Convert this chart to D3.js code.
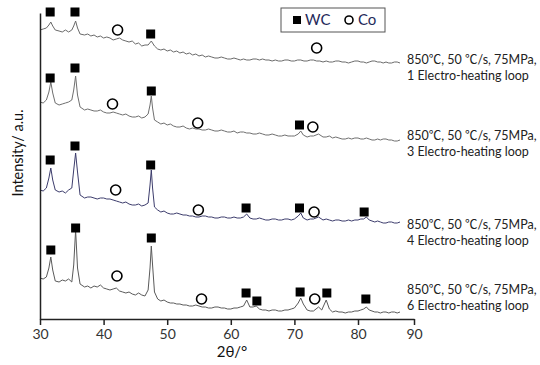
<!DOCTYPE html>
<html>
<head>
<meta charset="utf-8">
<script src="https://cdn.jsdelivr.net/npm/d3@7"></script>
<style>
  html, body { margin: 0; padding: 0; background: #fff; }
  svg { display: block; font-family: Lato, "Noto Sans CJK SC", sans-serif; }
</style>
</head>
<body>
<svg id="chart" width="540" height="365"></svg>
<script>
// XRD patterns, [2θ, stacked intensity in a.u.]
const loop1 = [
  [30, 289], [30.5, 290], [31, 291], [31.4, 294], [31.7, 297], [32, 293], [32.4, 289], [33, 288],
  [33.5, 287], [34, 289], [34.5, 287], [35, 289], [35.3, 293], [35.6, 298], [35.9, 291], [36.3, 285],
  [37, 284], [37.5, 285], [38, 283], [38.5, 284], [39, 282], [39.5, 283], [40, 281], [40.5, 282],
  [41, 281], [41.5, 279], [42, 280], [42.5, 281], [43, 279], [43.5, 278], [44, 277], [44.5, 278],
  [45, 275], [45.5, 276], [46, 273], [46.5, 274], [47, 274], [47.5, 278], [48, 273], [48.5, 270],
  [49, 269], [49.5, 270], [50, 268], [50.5, 269], [51, 267], [51.5, 268], [52, 266], [52.5, 267],
  [53, 265], [53.5, 266], [54, 264], [54.5, 265], [55, 263], [55.5, 264], [56, 262], [56.5, 263],
  [57, 262], [57.5, 261], [58, 261], [58.5, 262], [59, 261], [59.5, 260], [60, 260], [60.5, 261],
  [61, 260], [61.5, 259], [62, 260], [62.5, 259], [63, 259], [63.5, 260], [64, 260], [64.5, 259],
  [65, 260], [65.5, 259], [66, 259], [66.5, 258], [67, 259], [67.5, 258], [68, 258], [68.5, 259],
  [69, 259], [69.5, 258], [70, 258], [70.5, 259], [71, 259], [71.5, 258], [72, 258], [72.5, 259],
  [73, 259], [73.5, 258], [74, 258], [74.5, 257], [75, 258], [75.5, 257], [76, 257], [76.5, 258],
  [77, 258], [77.5, 257], [78, 257], [78.5, 256], [79, 257], [79.5, 258], [80, 258], [80.5, 257],
  [81, 257], [81.5, 256], [82, 257], [82.5, 258], [83, 258], [83.5, 257], [84, 257], [84.5, 256],
  [85, 257], [85.5, 256], [86, 256], [86.5, 257], [87, 257], [87.5, 256]
];
const loop3 = [
  [30, 217], [30.5, 216], [31, 219], [31.4, 227], [31.7, 237], [32, 226], [32.4, 216], [33, 214],
  [33.5, 215], [34, 216], [34.5, 217], [35, 219], [35.3, 229], [35.6, 243], [35.9, 224], [36.3, 212],
  [37, 209], [37.5, 210], [38, 209], [38.5, 208], [39, 208], [39.5, 209], [40, 207], [40.5, 206],
  [41, 206], [41.5, 207], [42, 206], [42.5, 205], [43, 204], [43.5, 205], [44, 203], [44.5, 202],
  [45, 202], [45.5, 203], [46, 201], [46.5, 202], [47, 205], [47.3, 214], [47.5, 223], [47.7, 211],
  [48, 199], [48.5, 197], [49, 195], [49.5, 196], [50, 194], [50.5, 195], [51, 193], [51.5, 192],
  [52, 192], [52.5, 193], [53, 191], [53.5, 190], [54, 191], [54.5, 190], [55, 190], [55.5, 189],
  [56, 189], [56.5, 190], [57, 189], [57.5, 188], [58, 188], [58.5, 189], [59, 188], [59.5, 187],
  [60, 187], [60.5, 188], [61, 186], [61.5, 187], [62, 187], [62.5, 186], [63, 186], [63.5, 185],
  [64, 185], [64.5, 186], [65, 185], [65.5, 184], [66, 184], [66.5, 185], [67, 184], [67.5, 183],
  [68, 183], [68.5, 184], [69, 183], [69.5, 183], [70, 183], [70.6, 185], [71, 188], [71.4, 184],
  [72, 182], [72.5, 183], [73, 183], [73.8, 185], [74.5, 182], [75, 182], [75.5, 183], [76, 181],
  [76.5, 182], [77, 181], [77.5, 180], [78, 180], [78.5, 181], [79, 180], [79.5, 181], [80, 181],
  [80.5, 180], [81, 180], [81.5, 181], [82, 180], [82.5, 179], [83, 179], [83.5, 180], [84, 179],
  [84.5, 180], [85, 180], [85.5, 179], [86, 179], [86.5, 178], [87, 178], [87.5, 179]
];
const loop4 = [
  [30, 129], [30.5, 128], [31, 131], [31.4, 141], [31.7, 151], [32, 139], [32.4, 129], [33, 127],
  [33.5, 128], [34, 126], [34.5, 129], [35, 131], [35.3, 149], [35.6, 166], [35.9, 147], [36.3, 124],
  [37, 121], [37.5, 122], [38, 122], [38.5, 121], [39, 120], [39.5, 121], [40, 121], [40.5, 120],
  [41, 120], [41.5, 119], [42, 118], [42.5, 117], [43, 116], [43.5, 117], [44, 115], [44.5, 114],
  [45, 114], [45.5, 115], [46, 113], [46.5, 114], [47, 116], [47.3, 134], [47.5, 149], [47.7, 131],
  [48, 112], [48.5, 109], [49, 107], [49.5, 108], [50, 106], [50.5, 105], [51, 105], [51.5, 106],
  [52, 105], [52.5, 104], [53, 104], [53.5, 103], [54, 103], [54.5, 102], [55, 102], [55.5, 103],
  [56, 103], [56.5, 102], [57, 102], [57.5, 101], [58, 101], [58.5, 102], [59, 102], [59.5, 101],
  [60, 101], [60.5, 102], [61, 101], [61.5, 101], [62, 102], [62.5, 105], [63, 101], [63.5, 100],
  [64, 100], [64.5, 101], [65, 100], [65.5, 99], [66, 99], [66.5, 100], [67, 100], [67.5, 99],
  [68, 99], [68.5, 100], [69, 100], [69.5, 99], [70, 100], [70.6, 103], [71, 106], [71.4, 101],
  [72, 99], [72.5, 100], [73, 100], [73.8, 102], [74.5, 99], [75, 100], [75.5, 99], [76, 98],
  [76.5, 99], [77, 99], [77.5, 98], [78, 98], [78.5, 99], [79, 98], [79.5, 99], [80, 99],
  [80.5, 100], [81, 100], [81.5, 102], [82, 99], [82.5, 98], [83, 97], [83.5, 98], [84, 97],
  [84.5, 96], [85, 96], [85.5, 97], [86, 97], [86.5, 96], [87, 96], [87.5, 97]
];
const loop6 = [
  [30, 41], [30.5, 40], [31, 42], [31.4, 51], [31.7, 62], [32, 49], [32.4, 38], [33, 37],
  [33.5, 39], [34, 38], [34.5, 40], [35, 37], [35.3, 54], [35.6, 89], [35.9, 51], [36.3, 35],
  [37, 32], [37.5, 33], [38, 31], [38.5, 33], [39, 32], [39.5, 34], [40, 31], [40.5, 30],
  [41, 29], [41.5, 30], [42, 31], [42.5, 28], [43, 27], [43.5, 26], [44, 27], [44.5, 25],
  [45, 24], [45.5, 26], [46, 24], [46.5, 23], [47, 29], [47.3, 51], [47.5, 73], [47.7, 54],
  [48, 27], [48.5, 20], [49, 18], [49.5, 19], [50, 17], [50.5, 16], [51, 16], [51.5, 15],
  [52, 15], [52.5, 14], [53, 14], [53.5, 13], [54, 13], [54.5, 14], [55, 13], [55.5, 12],
  [56, 12], [56.5, 11], [57, 11], [57.5, 12], [58, 12], [58.5, 11], [59, 11], [59.5, 10],
  [60, 10], [60.5, 11], [61, 11], [61.5, 12], [62, 13], [62.5, 19], [63, 12], [63.5, 12],
  [64, 13], [64.5, 10], [65, 9], [65.5, 9], [66, 8], [66.5, 9], [67, 9], [67.5, 8],
  [68, 8], [68.5, 9], [69, 9], [69.5, 10], [70, 11], [70.6, 16], [71, 21], [71.4, 15],
  [72, 9], [72.5, 8], [73, 8], [73.8, 12], [74.3, 9], [75, 19], [75.5, 10], [76, 7],
  [76.5, 8], [77, 7], [77.5, 7], [78, 6], [78.5, 7], [79, 7], [79.5, 8], [80, 8],
  [80.5, 9], [81, 10], [81.5, 12], [82, 9], [82.5, 8], [83, 7], [83.5, 7], [84, 6],
  [84.5, 7], [85, 7], [85.5, 6], [86, 7], [86.5, 7], [87, 6], [87.5, 7]
];

// phase markers, [2θ, a.u.]
const wcMarks = [
  [31.6, 307], [35.5, 307], [47.4, 285],
  [31.6, 241], [35.5, 251], [47.5, 228], [70.8, 194],
  [31.6, 159], [35.5, 173], [47.4, 154], [62.4, 111], [70.8, 111], [81.1, 107],
  [31.7, 69], [35.6, 91], [47.5, 81], [62.4, 26], [64.1, 18], [70.9, 27], [75.1, 26], [81.4, 20]
];
const coMarks = [
  [42.2, 289], [73.5, 271],
  [41.4, 215], [54.8, 196], [72.9, 192],
  [41.9, 129], [54.9, 109], [73.1, 107],
  [42.1, 43], [55.4, 20], [73.2, 20]
];

const seriesNames = [
  ["850℃, 50 ℃/s, 75MPa,", "1 Electro-heating loop"],
  ["850℃, 50 ℃/s, 75MPa,", "3 Electro-heating loop"],
  ["850℃, 50 ℃/s, 75MPa,", "4 Electro-heating loop"],
  ["850℃, 50 ℃/s, 75MPa,", "6 Electro-heating loop"]
];
const seriesColors = ["#6a6a6a", "#6f6f6f", "#3c3c6c", "#5a5a5a"];
const xTicks = [30, 40, 50, 60, 70, 80, 90];

const svg = d3.select("#chart");

// the last decade of the original axis is drawn a bit shorter
const x = d3.scaleLinear().domain([30, 80, 90]).range([40, 358, 414]);
const y = d3.scaleLinear().domain([0, 306]).range([319, 13]);

const line = d3.line()
  .x(d => x(d[0]))
  .y(d => y(d[1]));

svg.append("g")
  .selectAll("path")
  .data([loop1, loop3, loop4, loop6])
  .join("path")
  .attr("d", line)
  .attr("fill", "none")
  .attr("stroke", (d, i) => seriesColors[i])
  .attr("stroke-width", 1)
  .attr("stroke-linejoin", "round");

// axes
const xAxis = svg.append("g")
  .attr("transform", "translate(0,319)")
  .call(d3.axisBottom(x).tickValues(xTicks).tickSizeInner(6).tickSizeOuter(0).tickPadding(4));
xAxis.select(".domain").attr("stroke", "#222").attr("stroke-width", 1.5);
xAxis.selectAll(".tick line").attr("stroke", "#222").attr("stroke-width", 1.5);
xAxis.selectAll(".tick text")
  .attr("fill", "#333")
  .style("font-size", "14px")
  .style("font-family", "Lato, sans-serif");

const yAxis = svg.append("g")
  .attr("transform", "translate(40,0)")
  .call(d3.axisLeft(y).tickValues([]).tickSizeOuter(0));
yAxis.select(".domain").attr("stroke", "#222").attr("stroke-width", 1.5);

svg.append("text")
  .attr("x", 232)
  .attr("y", 357)
  .attr("text-anchor", "middle")
  .attr("fill", "#111")
  .style("font-size", "15px")
  .text("2θ/°");

svg.append("text")
  .attr("transform", "translate(23,153) rotate(-90)")
  .attr("text-anchor", "middle")
  .attr("fill", "#111")
  .style("font-size", "14.5px")
  .text("Intensity/ a.u.");

// markers
svg.append("g")
  .selectAll("rect")
  .data(wcMarks)
  .join("rect")
  .attr("x", d => x(d[0]) - 4.5)
  .attr("y", d => y(d[1]) - 4.5)
  .attr("width", 9)
  .attr("height", 9)
  .attr("fill", "#000");

svg.append("g")
  .selectAll("circle")
  .data(coMarks)
  .join("circle")
  .attr("cx", d => x(d[0]))
  .attr("cy", d => y(d[1]))
  .attr("r", 5)
  .attr("fill", "#fff")
  .attr("stroke", "#000")
  .attr("stroke-width", 1.6);

// series labels on the right
const labelY = [60, 136, 225, 290];
const labels = svg.append("g")
  .selectAll("text")
  .data(seriesNames)
  .join("text")
  .attr("x", 407)
  .attr("y", (d, i) => labelY[i])
  .attr("fill", "#222")
  .style("font-size", "12.5px");
labels.append("tspan").attr("x", 407).attr("dy", "0.35em").text(d => d[0]);
labels.append("tspan").attr("x", 407).attr("dy", "1.25em").text(d => d[1]);

// legend
const legend = svg.append("g");
legend.append("rect")
  .attr("x", 281).attr("y", 8).attr("width", 104).attr("height", 24)
  .attr("fill", "#fff").attr("stroke", "#555").attr("stroke-width", 1);
legend.append("rect")
  .attr("x", 293).attr("y", 16).attr("width", 8).attr("height", 8).attr("fill", "#000");
legend.append("text")
  .attr("x", 305).attr("y", 20).attr("dy", "0.35em")
  .attr("fill", "#1f2a5a").style("font-size", "15px").text("WC");
legend.append("circle")
  .attr("cx", 349).attr("cy", 20).attr("r", 4)
  .attr("fill", "#fff").attr("stroke", "#000").attr("stroke-width", 1.6);
legend.append("text")
  .attr("x", 358).attr("y", 20).attr("dy", "0.35em")
  .attr("fill", "#1f2a5a").style("font-size", "15px").text("Co");
</script>
</body>
</html>
